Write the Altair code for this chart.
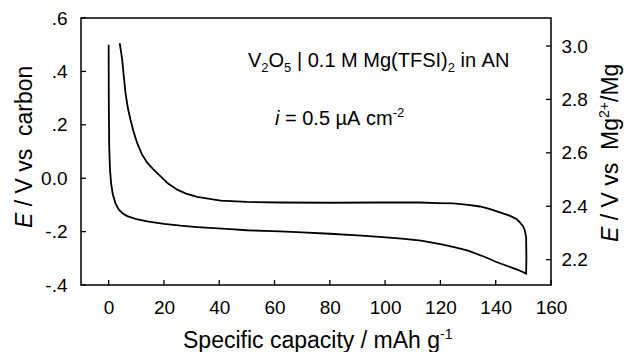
import altair as alt
import pandas as pd

# ---- data ----
cap_discharge = [0, 0.05, 0.2, 0.5, 0.9, 1.5, 2.5, 3.7, 5, 6.7, 10, 14, 20, 26, 32, 38, 44, 50,
                 56, 62, 70, 80, 90, 98, 106, 113, 120, 125, 130, 137, 140, 144, 148, 151]
e_discharge = [0.5, 0.3, 0.12, 0.03, -0.02, -0.06, -0.095, -0.118, -0.131, -0.142, -0.153,
               -0.162, -0.171, -0.178, -0.183, -0.187, -0.191, -0.195, -0.197, -0.199, -0.203,
               -0.208, -0.214, -0.22, -0.226, -0.234, -0.247, -0.258, -0.271, -0.299, -0.313,
               -0.328, -0.343, -0.357]
cap_charge = [151.1, 151.0, 150.5, 149.9, 148.5, 147.5, 145, 141.5, 138, 134.3, 130, 124.7,
              118.6, 112.6, 98, 80, 62, 50, 40.5, 32, 28, 24.8, 21.5, 18.8, 16, 14, 12, 10.3,
              9, 7.9, 7, 6.1, 5.4, 4.9, 4.4, 4]
e_charge = [-0.3, -0.22, -0.195, -0.18, -0.163, -0.153, -0.14, -0.128, -0.116, -0.106, -0.1,
            -0.094, -0.093, -0.091, -0.091, -0.092, -0.091, -0.089, -0.084, -0.07, -0.058,
            -0.043, -0.02, 0.007, 0.035, 0.057, 0.09, 0.132, 0.175, 0.219, 0.26, 0.319, 0.39,
            0.444, 0.48, 0.506]

x_ticks = [0, 20, 40, 60, 80, 100, 120, 140, 160]
left_ticks = [-0.4, -0.2, 0.0, 0.2, 0.4, 0.6]
right_ticks = [2.2, 2.4, 2.6, 2.8, 3.0]

caps = cap_discharge + cap_charge
volts = e_discharge + e_charge
curve_df = pd.DataFrame({"cap": caps, "E": volts, "order": list(range(len(caps)))})

W, H = 470, 267
FONT = "Liberation Sans"
TICK = 5
NB = "\u00a0"

xscale = alt.Scale(domain=[-10, 160], nice=False, zero=False)
yscale = alt.Scale(domain=[-0.4, 0.6], nice=False, zero=False)
rscale = alt.Scale(domain=[2.105, 3.105], nice=False, zero=False)

xaxis = alt.Axis(values=x_ticks, title=None, grid=False, ticks=False, domain=False,
                 labelFontSize=19, labelPadding=13, labelColor="black", labelFlush=False,
                 labelOverlap=False)
laxis = alt.Axis(values=left_ticks, title=None, grid=False, ticks=False, domain=False,
                 labelFontSize=19, labelPadding=14, labelColor="black", labelFlush=False,
                 labelOverlap=False,
                 labelExpr="abs(datum.value) < 1e-9 ? '0.0' : replace(replace(format(datum.value, '.1f'), '\u2212', '-'), '0.', '.')")
raxis = alt.Axis(values=right_ticks, title=None, grid=False, ticks=False, domain=False,
                 orient="right", format=".1f", labelFontSize=19, labelPadding=10,
                 labelColor="black", labelFlush=False, labelOverlap=False)

curve = alt.Chart(curve_df).mark_line(color="black", strokeWidth=1.8).encode(
    x=alt.X("cap:Q", scale=xscale, axis=xaxis),
    y=alt.Y("E:Q", scale=yscale, axis=laxis),
    order="order:Q",
)

lticks = alt.Chart(pd.DataFrame({"E": left_ticks})).mark_rule(color="black", strokeWidth=1.3).encode(
    y=alt.Y("E:Q", scale=yscale, axis=laxis),
    x=alt.value(0), x2=alt.value(TICK),
)
xticks = alt.Chart(pd.DataFrame({"cap": x_ticks})).mark_rule(color="black", strokeWidth=1.3).encode(
    x=alt.X("cap:Q", scale=xscale, axis=xaxis),
    y=alt.value(H - TICK), y2=alt.value(H),
)
rticks = alt.Chart(pd.DataFrame({"Er": right_ticks})).mark_rule(color="black", strokeWidth=1.3).encode(
    y=alt.Y("Er:Q", scale=rscale, axis=raxis),
    x=alt.value(W - TICK), x2=alt.value(W),
)

dummy = pd.DataFrame({"d": [0]})


def txt(s, x, y, size, italic=False, angle=0):
    kw = dict(text=s, fontSize=size, align="left", baseline="alphabetic", color="black", font=FONT)
    if italic:
        kw["fontStyle"] = "italic"
    if angle:
        kw["angle"] = angle
    return alt.Chart(dummy).mark_text(**kw).encode(x=alt.value(x), y=alt.value(y))


TS = 23  # axis title size
SP_T = 0.278 * TS   # width of a space in title font
SP_A = 0.278 * 20   # width of a space in annotation font
RX = 537            # baseline of the right title
texts = [
    # x title
    txt("Specific capacity / mAh g", 102, 330, TS),
    txt("-1", 359, 321, 14),
    # left title
    txt("E", -49, 210, TS, italic=True, angle=270),
    txt("/" + NB + "V" + NB + "vs" + NB + NB + "carbon", -49, 194.7 - SP_T, TS, angle=270),
    # right title
    txt("E", RX, 224, TS, italic=True, angle=270),
    txt("/" + NB + "V" + NB + "vs" + NB + NB + "Mg", RX, 208.7 - SP_T, TS, angle=270),
    txt("2+", RX - 9, 100, 14, angle=270),
    txt("/Mg", RX, 84, TS, angle=270),
    # annotation line 1
    txt("V", 167, 49, 20),
    txt("2", 180.3, 54, 13),
    txt("O", 187.6, 49, 20),
    txt("5", 203.1, 54, 13),
    txt("|" + NB + "0.1" + NB + "M" + NB + "Mg(TFSI)", 210.4 + SP_A, 49, 20),
    txt("2", 366.7, 54, 13),
    txt("in" + NB + "AN", 373.9 + SP_A, 49, 20),
    # annotation line 2
    txt("i", 194, 107, 20, italic=True),
    txt("=" + NB + "0.5" + NB + "\u00b5A" + NB + "cm", 198.4 + SP_A, 107, 20),
    txt("-2", 311.7, 99, 13),
]

left_group = alt.layer(curve, lticks, xticks, *texts)
chart = (
    alt.layer(left_group, rticks)
    .resolve_scale(y="independent")
    .properties(
        width=W, height=H,
        padding={"left": 73, "top": 10, "right": 73, "bottom": 67},
        autosize=alt.AutoSizeParams(type="none"),
    )
    .configure(font=FONT)
    .configure_view(stroke="black", strokeWidth=1.5)
)

chart.save("out.html", embed_options={"renderer": "svg", "actions": False})
